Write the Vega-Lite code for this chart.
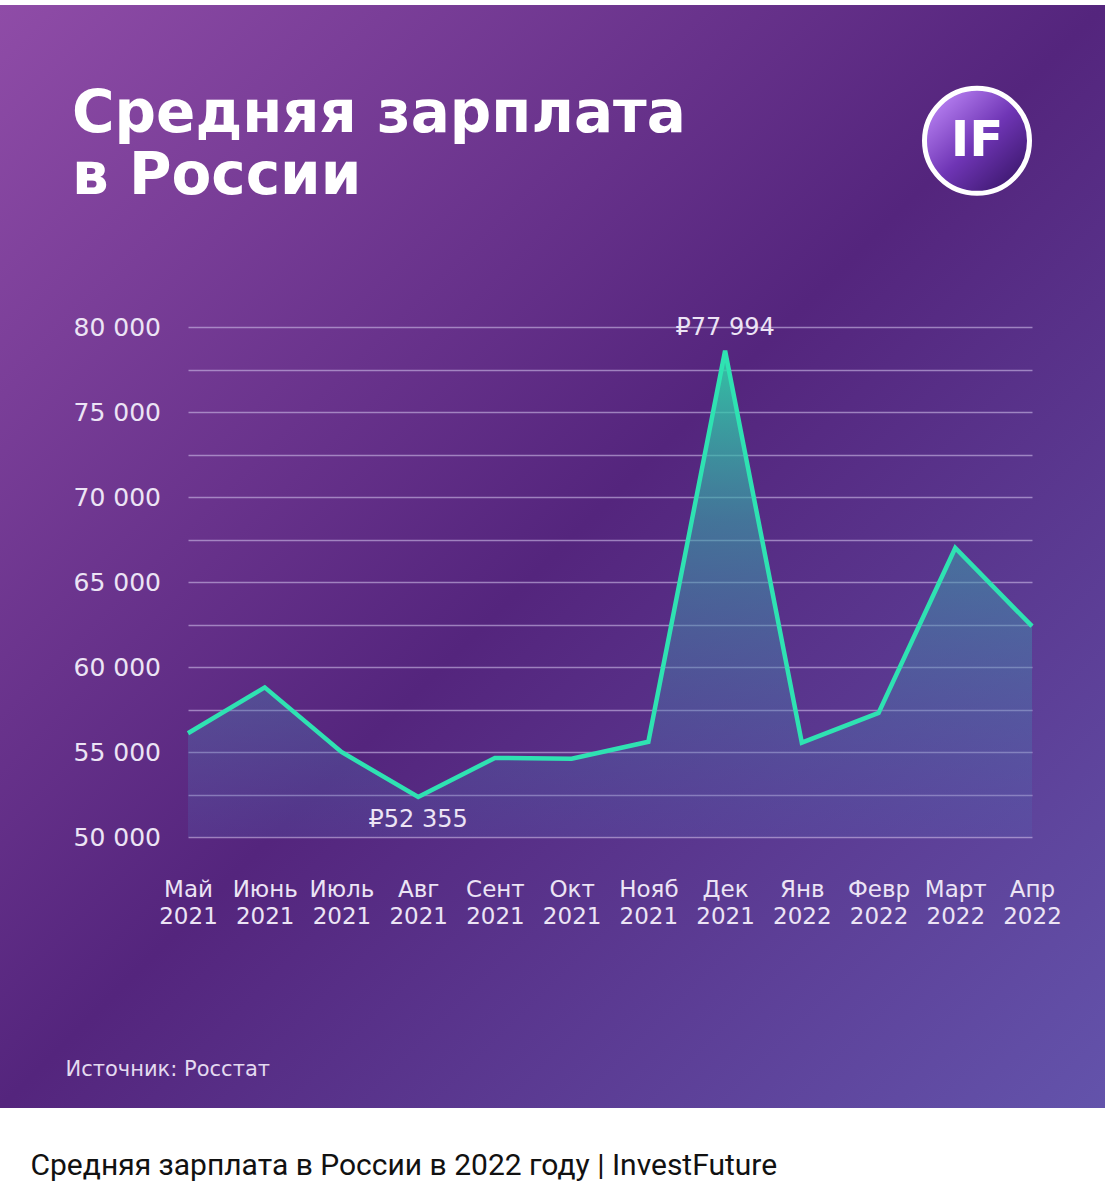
{
  "$schema": "https://vega.github.io/schema/vega-lite/v6.json",
  "width": 1105,
  "height": 1103,
  "autosize": {"type": "none"},
  "padding": {"top": 5, "left": 0, "right": 0, "bottom": 92},
  "background": "#ffffff",
  "view": {
    "stroke": null,
    "fill": {
      "gradient": "linear", "x1": 0, "y1": 0, "x2": 1, "y2": 1,
      "stops": [
        {"offset": 0, "color": "#8f4ca7"},
        {"offset": 0.5, "color": "#54257d"},
        {"offset": 1, "color": "#6353ab"}
      ]
    }
  },
  "title": {
    "text": ["Средняя зарплата", "в России"],
    "anchor": "start",
    "frame": "group",
    "font": "DejaVu Sans",
    "fontSize": 58,
    "fontWeight": "bold",
    "color": "#ffffff",
    "lineHeight": 62,
    "baseline": "top",
    "offset": 0,
    "dx": 72,
    "dy": 201
  },
  "data": {
    "values": [
      {"month": "Май 2021", "salary": 56100},
      {"month": "Июнь 2021", "salary": 58800},
      {"month": "Июль 2021", "salary": 55000},
      {"month": "Авг 2021", "salary": 52355, "label": "₽52 355"},
      {"month": "Сент 2021", "salary": 54650},
      {"month": "Окт 2021", "salary": 54600},
      {"month": "Нояб 2021", "salary": 55600},
      {"month": "Дек 2021", "salary": 78600, "label": "₽77 994"},
      {"month": "Янв 2022", "salary": 55550},
      {"month": "Февр 2022", "salary": 57300},
      {"month": "Март 2022", "salary": 67000},
      {"month": "Апр 2022", "salary": 62400}
    ]
  },
  "encoding": {
    "x": {
      "field": "month",
      "type": "ordinal",
      "sort": null,
      "scale": {"type": "point", "range": [188, 1032], "padding": 0},
      "axis": {
        "orient": "bottom",
        "offset": -271,
        "domain": false,
        "ticks": false,
        "tickSize": 0,
        "grid": false,
        "labelAngle": 0,
        "labelExpr": "split(datum.label, ' ')",
        "labelFont": "DejaVu Sans",
        "labelFontSize": 23,
        "labelLineHeight": 27,
        "labelColor": "#ece4f5",
        "labelBaseline": "top",
        "labelPadding": 41,
        "labelAlign": "center",
        "title": "Средняя зарплата в России в 2022 году | InvestFuture",
        "titleFont": "Roboto",
        "titleFontSize": 30,
        "titleFontWeight": "normal",
        "titleColor": "#111111",
        "titleAlign": "left",
        "titleAnchor": null,
        "titleBaseline": "middle",
        "titleX": 30,
        "titleY": 328
      }
    },
    "y": {
      "field": "salary",
      "type": "quantitative",
      "scale": {"domain": [50000, 80000], "range": [832, 322], "nice": false, "zero": false},
      "axis": {
        "orient": "left",
        "values": [50000, 52500, 55000, 57500, 60000, 62500, 65000, 67500, 70000, 72500, 75000, 77500, 80000],
        "labelExpr": "datum.value % 5000 === 0 ? replace(format(datum.value, ','), ',', ' ') : ''",
        "domain": false,
        "ticks": false,
        "tickSize": 0,
        "labelAlign": "left",
        "labelBaseline": "middle",
        "labelPadding": -73,
        "labelFont": "DejaVu Sans",
        "labelFontSize": 25,
        "labelColor": "#ece4f5",
        "grid": true,
        "gridColor": "#cdbde8",
        "gridOpacity": 0.6,
        "gridWidth": 1.5,
        "title": "Источник: Росстат",
        "titleAngle": 0,
        "titleAlign": "left",
        "titleAnchor": null,
        "titleBaseline": "alphabetic",
        "titleFont": "DejaVu Sans",
        "titleFontSize": 21,
        "titleFontWeight": "normal",
        "titleColor": "#e4daf0",
        "titleX": 65,
        "titleY": 1070
      }
    }
  },
  "layer": [
    {
      "mark": {
        "type": "area",
        "line": false,
        "fill": {
          "gradient": "linear", "x1": 0, "y1": 0, "x2": 0, "y2": 1,
          "stops": [
            {"offset": 0, "color": "rgba(45,225,172,0.85)"},
            {"offset": 0.35, "color": "rgba(55,165,168,0.6)"},
            {"offset": 1, "color": "rgba(85,95,175,0.25)"}
          ]
        }
      },
      "encoding": {"y2": {"datum": 50000}}
    },
    {
      "mark": {"type": "line", "stroke": "#2fe2b2", "strokeWidth": 4.5, "strokeJoin": "miter"}
    },
    {
      "transform": [{"filter": "datum.month === 'Дек 2021'"}],
      "mark": {"type": "text", "font": "DejaVu Sans", "fontSize": 24, "fill": "#ece4f5", "dy": -23, "baseline": "middle"},
      "encoding": {"text": {"field": "label"}}
    },
    {
      "transform": [{"filter": "datum.month === 'Авг 2021'"}],
      "mark": {"type": "text", "font": "DejaVu Sans", "fontSize": 24, "fill": "#ece4f5", "dy": 23, "baseline": "middle"},
      "encoding": {"text": {"field": "label"}}
    },
    {
      "transform": [{"filter": "datum.month === 'Апр 2022'"}],
      "mark": {
        "type": "point",
        "shape": "circle",
        "filled": true,
        "size": 11025,
        "xOffset": -55,
        "opacity": 1,
        "stroke": "#ffffff",
        "strokeWidth": 5,
        "fill": {
          "gradient": "linear", "x1": 0.15, "y1": 0.1, "x2": 0.9, "y2": 0.9,
          "stops": [
            {"offset": 0, "color": "#b57ef0"},
            {"offset": 0.5, "color": "#6f35b5"},
            {"offset": 1, "color": "#3b176c"}
          ]
        }
      },
      "encoding": {
        "y": {"datum": 90950}
      }
    },
    {
      "transform": [{"filter": "datum.month === 'Апр 2022'"}],
      "mark": {"type": "text", "font": "DejaVu Sans", "fontSize": 50, "fontWeight": "bold", "fill": "#ffffff", "dx": -55, "baseline": "middle", "align": "center"},
      "encoding": {
        "y": {"datum": 90950},
        "text": {"value": "IF"}
      }
    }
  ]
}
